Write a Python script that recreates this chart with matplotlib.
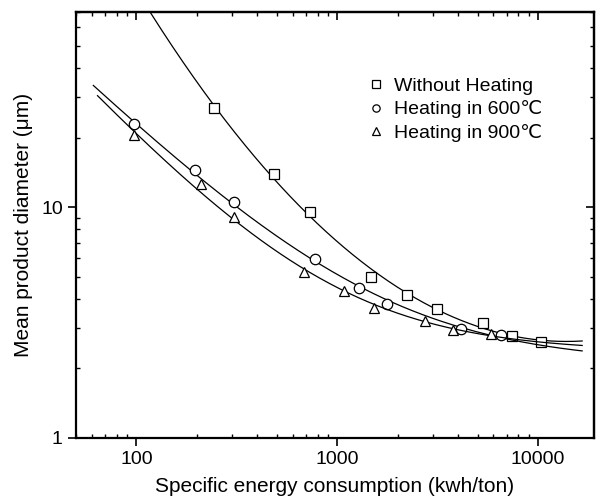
import numpy as np
import matplotlib
matplotlib.use('Agg')
import matplotlib.pyplot as plt

plt.rcParams['font.family'] = ['Liberation Sans', 'DejaVu Sans']

# data
sq_x = [243, 484, 733, 1479, 2239, 3126, 5310, 7410, 10350]
sq_y = [26.8, 13.9, 9.5, 4.98, 4.16, 3.61, 3.15, 2.77, 2.61]

ci_x = [97, 195, 305, 776, 1288, 1778, 4120, 6530]
ci_y = [22.9, 14.5, 10.5, 5.96, 4.46, 3.80, 2.96, 2.79]

tr_x = [97, 209, 305, 684, 1084, 1531, 2723, 3760, 5820]
tr_y = [20.5, 12.6, 9.05, 5.24, 4.33, 3.66, 3.21, 2.93, 2.82]

labels = ['Without Heating', 'Heating in 600\u2103', 'Heating in 900\u2103']
fit_start = [100, 61, 64]
fit_end = 16600


def fit_quad(x, y, xx):
    # quadratic in log-log space
    p = np.polyfit(np.log10(x), np.log10(y), 2)
    return 10 ** np.polyval(p, np.log10(xx))


def fit_power(x, y, xx):
    # y = c + a * x^b, c found by a simple grid search
    lx, ly = np.log10(x), np.log10(y)
    best = None
    for c in np.linspace(0, 0.98 * min(y), 500):
        p = np.polyfit(lx, np.log10(np.array(y) - c), 1)
        err = np.sum((np.log10(c + 10 ** np.polyval(p, lx)) - ly) ** 2)
        if best is None or err < best[0]:
            best = (err, c, p)
    _, c, p = best
    return c + 10 ** np.polyval(p, np.log10(xx))


fig = plt.figure(figsize=(5.96, 5.0), dpi=100)
ax = fig.add_axes([0.1275, 0.124, 0.869, 0.852])

series = [(sq_x, sq_y, 's', fit_quad), (ci_x, ci_y, 'o', fit_power), (tr_x, tr_y, '^', fit_power)]
for (x, y, m, f), lab, x0 in zip(series, labels, fit_start):
    xx = np.logspace(np.log10(x0), np.log10(fit_end), 300)
    ax.plot(xx, f(x, y, xx), color='black', lw=0.9)
    ax.plot(x, y, m, mfc='white', mec='black', mew=0.9, ms=7.5, label=lab, ls='none')

ax.set_xscale('log')
ax.set_yscale('log')
ax.set_xlim(50, 19000)
ax.set_ylim(1, 70)

ax.set_xticks([100, 1000, 10000])
ax.set_xticklabels(['100', '1000', '10000'])
ax.set_yticks([1, 10])
ax.set_yticklabels(['1', '10'])

ax.tick_params(which='major', direction='out', length=6, width=1.2, labelsize=14)
ax.tick_params(which='minor', direction='in', length=3, width=1.0)

for s in ax.spines.values():
    s.set_linewidth(1.6)

# inward ticks on top and right
top = ax.secondary_xaxis('top')
top.set_xscale('log')
top.tick_params(which='major', direction='in', length=6, width=1.2, labeltop=False)
top.tick_params(which='minor', direction='in', length=3, width=1.0)
top.set_xticks([100, 1000, 10000])
top.spines['top'].set_linewidth(1.6)
right = ax.secondary_yaxis('right')
right.set_yscale('log')
right.tick_params(which='major', direction='in', length=6, width=1.2, labelright=False)
right.tick_params(which='minor', direction='in', length=3, width=1.0)
right.set_yticks([1, 10])
right.spines['right'].set_linewidth(1.6)

ax.set_xlabel('Specific energy consumption (kwh/ton)', fontsize=15, labelpad=6)
ax.set_ylabel('Mean product diameter (\u03bcm)', fontsize=15, labelpad=6)

ax.legend(loc='upper left', bbox_to_anchor=(0.55, 0.865), frameon=False,
          fontsize=14, markerscale=0.7, handlelength=0.8, handletextpad=0.5,
          labelspacing=0.28, borderaxespad=0)

fig.savefig('out.png', dpi=100)
